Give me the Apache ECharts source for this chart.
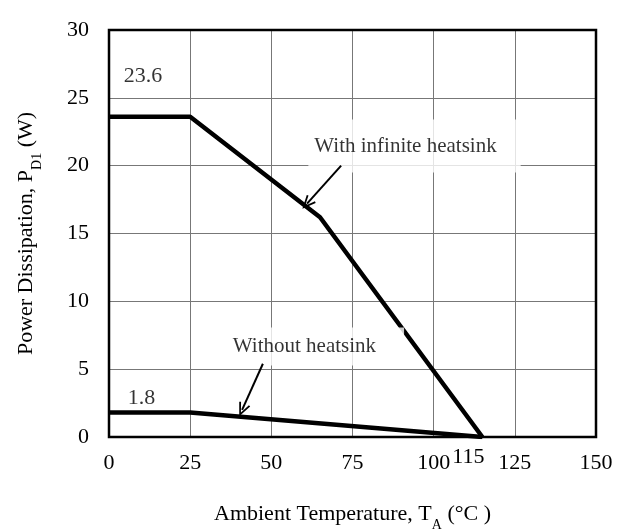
<!DOCTYPE html>
<html><head><meta charset="utf-8">
<script src="https://cdn.jsdelivr.net/npm/echarts@6/dist/echarts.min.js"></script>
<style>html,body{margin:0;padding:0;background:#fff}#c{width:627px;height:529px}</style>
</head><body><div id="c"></div>
<script>
const xTicks = [0, 25, 50, 75, 100, 125, 150];
const yTicks = [0, 5, 10, 15, 20, 25, 30];
const infiniteTemp = [0, 25, 65, 115];
const infinitePower = [23.6, 23.6, 16.2, 0];
const noSinkTemp = [0, 25, 115];
const noSinkPower = [1.8, 1.8, 0];
const extraTick = 115;
const valueLabels = [{ text: '23.6', x: 10.5, y: 26.6 }, { text: '1.8', x: 10, y: 2.87 }];
const curveLabels = [
  { text: 'With infinite heatsink', x: 94.1, y: 21.45, pad: [10, 24, 21, 6] },
  { text: 'Without heatsink', x: 63.9, y: 6.67, pad: [7, 28, 9, 4] }
];
const arrows = [[[71.5, 20], [61, 17.2]], [[47.4, 5.4], [41, 2.0]]];

const font = 'Liberation Serif';
const chart = echarts.init(document.getElementById('c'));
const vee = 'path://M5,0 L10,11 L8.6,11.6 L5,3.4 L1.4,11.6 L0,11 Z';
const rich = {
  m: { fontFamily: font, fontSize: 22, color: '#000', lineHeight: 26 },
  s: { fontFamily: font, fontSize: 14, color: '#000', lineHeight: 26, verticalAlign: 'bottom', padding: [0, 0, -5, 0] }
};

chart.setOption({
  animation: false,
  textStyle: { fontFamily: font },
  grid: { left: 109, top: 30, right: 31, bottom: 92, outerBoundsMode: 'none', containLabel: false, show: true, borderColor: '#000', borderWidth: 2.5, z: 3 },
  xAxis: {
    type: 'value', min: 0, max: 150, interval: 25,
    axisLine: { show: false }, axisTick: { show: false },
    axisLabel: { fontFamily: font, fontSize: 22, color: '#000', margin: 15 },
    splitLine: { show: true, lineStyle: { color: '#777', width: 1 } },
    name: '{m|Ambient Temperature, T}{s|A}{m| (°C )}', nameLocation: 'middle', nameGap: 64,
    nameTextStyle: { rich: rich }
  },
  yAxis: {
    type: 'value', min: 0, max: 30, interval: 5,
    axisLine: { show: false }, axisTick: { show: false },
    axisLabel: { fontFamily: font, fontSize: 22, color: '#000', margin: 20 },
    splitLine: { show: true, lineStyle: { color: '#777', width: 1 } },
    name: '{m|Power Dissipation, P}{s|D1}{m| (W)}', nameLocation: 'middle', nameGap: 70, nameRotate: 90,
    nameTextStyle: { rich: rich }
  },
  series: [
    {
      type: 'line', data: infiniteTemp.map((t, i) => [t, infinitePower[i]]),
      symbol: 'none', lineStyle: { color: '#000', width: 4.5 }, z: 4
    },
    {
      type: 'line', data: noSinkTemp.map((t, i) => [t, noSinkPower[i]]),
      symbol: 'none', lineStyle: { color: '#000', width: 4.5 }, z: 4
    },
    {
      type: 'scatter', symbolSize: 0, z: 6,
      data: valueLabels.map(d => ({ value: [d.x, d.y], name: d.text }))
        .concat(curveLabels.map(d => ({ value: [d.x, d.y], name: d.text, label: { backgroundColor: '#fff', padding: d.pad, fontSize: 21 } }))),
      label: { show: true, position: 'inside', formatter: p => p.name, fontFamily: font, fontSize: 22, color: '#000', lineHeight: 22 }
    },
    {
      type: 'line', data: [], z: 8,
      markLine: {
        z: 9, silent: true, symbol: ['none', vee], symbolSize: [12, 14],
        lineStyle: { color: '#000', width: 2, type: 'solid' }, label: { show: false },
        data: arrows.map(a => [{ coord: a[0] }, { coord: a[1] }])
      }
    }
  ]
});

const p = chart.convertToPixel({ gridIndex: 0 }, [extraTick, 0]);
chart.setOption({
  graphic: [{ type: 'text', x: p[0] - 14, y: p[1] + 20, style: { text: String(extraTick), font: '22px "Liberation Serif"', fill: '#000', align: 'center', verticalAlign: 'middle' } }]
});
</script></body></html>
